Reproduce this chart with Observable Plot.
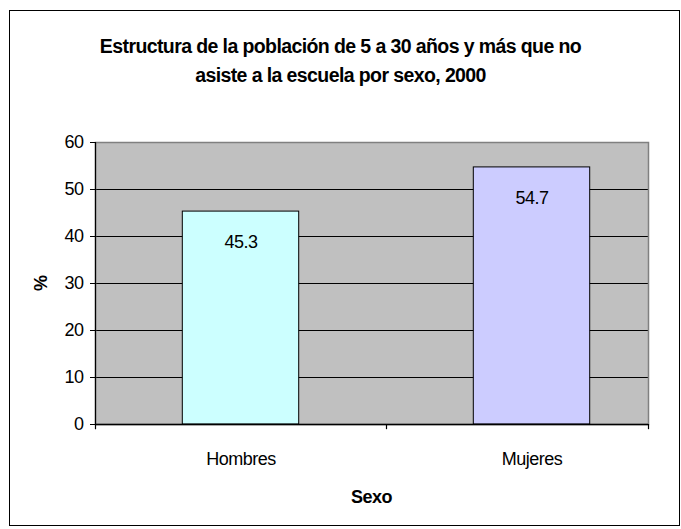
<!DOCTYPE html>
<html>
<head>
<meta charset="utf-8">
<script src="https://cdn.jsdelivr.net/npm/d3@7"></script>
<script src="https://cdn.jsdelivr.net/npm/@observablehq/plot@0.6"></script>
<style>
  html, body { margin: 0; padding: 0; background: #fff; }
  #wrap { position: relative; width: 681px; height: 529px; overflow: hidden; font-family: "Liberation Sans", Arial, sans-serif; color: #000; }
  #wrap svg { position: absolute; left: 0; top: 0; }
  #border { position: absolute; left: 9px; top: 10px; width: 669px; height: 514px; border: 1.5px solid #000; pointer-events: none; }
  .title { position: absolute; left: 0; top: 32px; width: 681px; text-align: center; font-weight: bold; font-size: 19.5px; line-height: 29px; letter-spacing: -0.6px; white-space: nowrap; }
  .xlab { position: absolute; top: 487px; text-align: center; font-weight: bold; font-size: 18px; line-height: 20px; letter-spacing: -0.5px; }
  .ylab { position: absolute; left: 41px; top: 283px; font-weight: bold; font-size: 18px; line-height: 20px; transform: translate(-50%, -50%) rotate(-90deg); white-space: nowrap; }
</style>
</head>
<body>
<div id="wrap"></div>
<script>
// ---- data ----
const titleLines = ["Estructura de la población de 5 a 30 años y más que no", "asiste a la escuela por sexo, 2000"];
const categories = ["Hombres", "Mujeres"];
const values = [45.3, 54.7];
const barColors = ["#CCFFFF", "#CCCCFF"];
const yTicks = [0, 10, 20, 30, 40, 50, 60];
const xTitle = "Sexo";
const yTitle = "%";

// ---- layout ----
const W = 681, H = 529;
const ml = 95, mr = 33, mt = 142, mb = 105;
const catStep = 291;                       // width of one category slot
const xRange = [ml, ml + catStep * categories.length];
const frameRight = W - mr;

const data = categories.map((c, i) => ({sexo: c, pct: values[i], color: barColors[i]}));

const font = '"Liberation Sans", Arial, sans-serif';

const chart = Plot.plot({
  width: W,
  height: H,
  marginLeft: ml,
  marginRight: mr,
  marginTop: mt,
  marginBottom: mb,
  style: {fontFamily: font, fontSize: "18px", color: "#000", background: "transparent", letterSpacing: "-0.5px"},
  x: {domain: categories, range: xRange, paddingInner: 0.6, paddingOuter: 0.3, round: false, label: null},
  y: {domain: [0, 60], label: null},
  marks: [
    Plot.frame({fill: "#C0C0C0"}),
    Plot.ruleY(yTicks.filter(t => t > 0 && t < 60), {y: d => d, stroke: "#000", strokeWidth: 1}),
    Plot.frame({stroke: "#808080", strokeWidth: 1.5}),
    Plot.barY(data, {x: "sexo", y: "pct", fill: "color", stroke: "#000", strokeWidth: 1}),
    Plot.text(data, {x: "sexo", y: "pct", text: d => d.pct.toFixed(1), dy: 31, fontSize: 18}),
    Plot.ruleY([0], {stroke: "#000", strokeWidth: 1.5}),
    // y-axis line, extending slightly below the baseline
    Plot.ruleX([categories[0]], {x: d => d, dx: -catStep / 2, y1: 60, y2: -1.1, stroke: "#000", strokeWidth: 1.2}),
    // boundary tick between the two categories
    Plot.ruleX([categories[0]], {x: d => d, dx: catStep / 2, y1: 0, y2: -1.1, stroke: "#000", strokeWidth: 1.2}),
    // tick at the right end of the axis
    Plot.ruleX([categories[1]], {x: d => d, dx: frameRight - (xRange[0] + catStep * 1.5), y1: 0, y2: -1.1, stroke: "#000", strokeWidth: 1.2}),
    Plot.axisY({ticks: yTicks, tickSize: 5, tickPadding: 7, fontSize: 18, label: null}),
    Plot.axisX({tickSize: 0, tickPadding: 28, fontSize: 18, label: null})
  ]
});

const wrap = document.getElementById("wrap");
wrap.appendChild(chart);

const title = document.createElement("div");
title.className = "title";
title.innerHTML = titleLines.join("<br>");
wrap.appendChild(title);

const xl = document.createElement("div");
xl.className = "xlab";
xl.style.left = ml + "px";
xl.style.width = (W - ml - mr) + "px";
xl.textContent = xTitle;
wrap.appendChild(xl);

const yl = document.createElement("div");
yl.className = "ylab";
yl.textContent = yTitle;
wrap.appendChild(yl);

const border = document.createElement("div");
border.id = "border";
wrap.appendChild(border);
</script>
</body>
</html>
